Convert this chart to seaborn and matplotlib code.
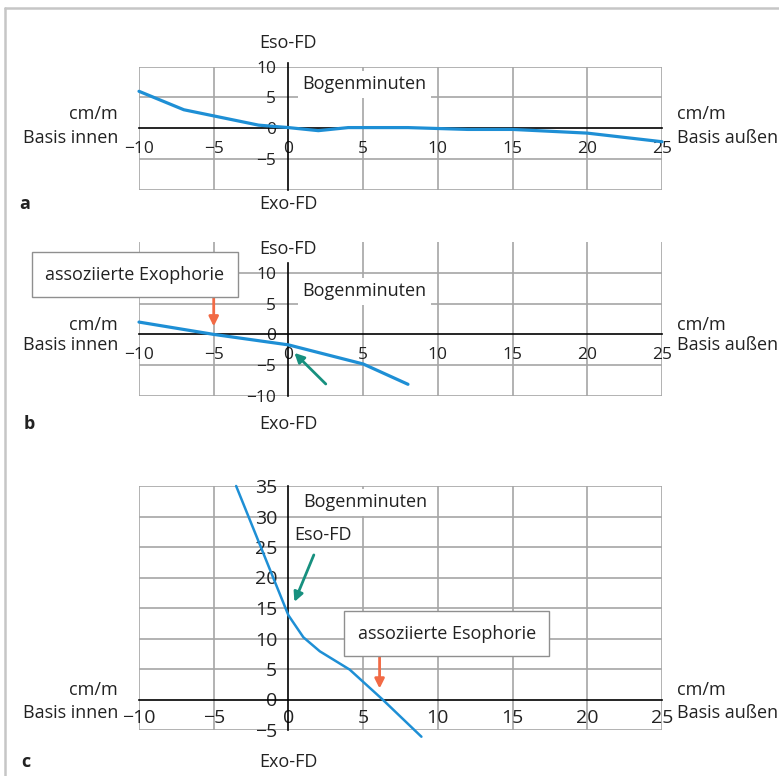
import matplotlib
matplotlib.use("Agg")
import matplotlib.pyplot as plt
from matplotlib.lines import Line2D
import seaborn as sns
import pandas as pd

# values (x: cm/m, y: Bogenminuten)
a_x = [-10, -7, -2, 0, 2, 4, 8, 12, 15, 20, 25]
a_y = [6, 3, 0.5, 0.1, -0.4, 0.1, 0.1, -0.2, -0.2, -0.8, -2.2]

b_x = [-10, -5, 0, 5, 8]
b_y = [2, 0, -1.7, -4.8, -8.1]

c_x = [-3.5, 0, 1.0, 2.1, 4.1, 6.3, 8.9]
c_y = [35, 13.8, 10.2, 7.9, 4.9, 0, -6.1]

x_ticks = [-10, -5, 0, 5, 10, 15, 20, 25]
a_yticks = [10, 5, 0, -5]
b_yticks = [10, 5, 0, -5, -10]
c_yticks = [35, 30, 25, 20, 15, 10, 5, 0, -5]

BLUE = "#1e8fd5"
ORANGE = "#f26a45"
TEAL = "#17907f"
GRID = "#a6a6a6"
TXT = "#222222"

sns.set_theme(style="white")
plt.rcParams["font.family"] = ["Open Sans", "DejaVu Sans"]
plt.rcParams["text.color"] = TXT

fig = plt.figure(figsize=(7.79, 7.76), dpi=100)

W, H = 779, 776
def axes_rect(left, right, top, bottom):
    return [left / W, 1 - bottom / H, (right - left) / W, (bottom - top) / H]

ax_a = fig.add_axes(axes_rect(139, 662, 66.7, 189.7))
ax_b = fig.add_axes(axes_rect(139, 662, 242, 396))
ax_c = fig.add_axes(axes_rect(139, 662, 486, 730))


def setup(ax, ylim, yticks, hgrid, spine_top, tick_fs, xpad, ypad):
    ax.set_xlim(-10, 25)
    ax.set_ylim(*ylim)
    ax.set_facecolor("none")
    for t in x_ticks:
        if t != 0:
            ax.vlines(t, ylim[0], ylim[1], color=GRID, lw=1.2, zorder=0)
    for t in hgrid:
        if t != 0:
            ax.hlines(t, -10, 25, color=GRID, lw=1.2, zorder=0)
    for s in ["top", "right"]:
        ax.spines[s].set_visible(False)
    ax.spines["bottom"].set_position(("data", 0))
    ax.spines["left"].set_position(("data", 0))
    ax.spines["left"].set_bounds(ylim[0], spine_top)
    for s in ["bottom", "left"]:
        ax.spines[s].set_color("black")
        ax.spines[s].set_linewidth(1.2)
        ax.spines[s].set_zorder(1)
    ax.set_xticks(x_ticks)
    ax.set_yticks(yticks)
    ax.set_xticklabels([f"{t}".replace("-", "\u2212") for t in x_ticks])
    ax.set_yticklabels([f"{t}".replace("-", "\u2212") for t in yticks])
    ax.tick_params(axis="x", length=0, pad=xpad, labelsize=tick_fs, colors=TXT)
    ax.tick_params(axis="y", length=0, pad=ypad, labelsize=tick_fs, colors=TXT)
    ax.set_xlabel("")
    ax.set_ylabel("")


setup(ax_a, (-10, 10), a_yticks, [10, 5, 0, -5, -10], 10.6, 12.5, 9, 9)
setup(ax_b, (-10, 15), b_yticks, b_yticks, 11.6, 12.5, 9, 9)
setup(ax_c, (-5, 35), c_yticks, c_yticks, 35, 14, 7, 8)

sns.lineplot(x=a_x, y=a_y, ax=ax_a, color=BLUE, lw=2.3, estimator=None, sort=False, zorder=3)
sns.lineplot(x=b_x, y=b_y, ax=ax_b, color=BLUE, lw=2.3, estimator=None, sort=False, zorder=3)
sns.lineplot(x=c_x, y=c_y, ax=ax_c, color=BLUE, lw=1.8, estimator=None, sort=False, zorder=3)
for ax in (ax_a, ax_b, ax_c):
    for ln in ax.get_lines():
        ln.set_clip_on(False)

FS = 13
white = dict(boxstyle="square,pad=0.25", fc="white", ec="none")
boxed = dict(boxstyle="square,pad=0.75", fc="white", ec="#8f8f8f", lw=1)


def side_labels(ax, cm_y, basis_y):
    ax.text(-11.4, cm_y, "cm/m", ha="right", va="baseline", fontsize=FS, clip_on=False)
    ax.text(-11.4, basis_y, "Basis innen", ha="right", va="baseline", fontsize=FS, clip_on=False)
    ax.text(26.0, cm_y, "cm/m", ha="left", va="baseline", fontsize=FS, clip_on=False)
    ax.text(26.0, basis_y, "Basis außen", ha="left", va="baseline", fontsize=FS, clip_on=False)


# panel a
ax_a.text(0, 13.1, "Eso-FD", ha="center", va="baseline", fontsize=FS, clip_on=False)
ax_a.text(0, -13.1, "Exo-FD", ha="center", va="baseline", fontsize=FS, clip_on=False)
ax_a.text(-18.0, -13.1, "a", ha="left", va="baseline", fontsize=FS, fontweight="bold", clip_on=False)
ax_a.text(0.95, 6.35, "Bogenminuten", ha="left", va="baseline", fontsize=FS, bbox=white, zorder=2)
side_labels(ax_a, 1.5, -2.4)

# panel b
ax_b.text(0, 13.1, "Eso-FD", ha="center", va="baseline", fontsize=FS, clip_on=False)
ax_b.text(0, -15.4, "Exo-FD", ha="center", va="baseline", fontsize=FS, clip_on=False)
ax_b.text(-17.7, -15.4, "b", ha="left", va="baseline", fontsize=FS, fontweight="bold", clip_on=False)
ax_b.text(0.95, 6.2, "Bogenminuten", ha="left", va="baseline", fontsize=FS, bbox=white, zorder=2)
side_labels(ax_b, 0.75, -2.5)
ax_b.text(-10.27, 9.7, "assoziierte Exophorie", ha="center", va="center", fontsize=FS,
          bbox=boxed, zorder=5, clip_on=False)
ax_b.annotate("", xy=(-5, 1.3), xytext=(-5, 7.1),
              arrowprops=dict(arrowstyle="-|>", color=ORANGE, lw=2, mutation_scale=14, shrinkA=0, shrinkB=0),
              zorder=4)
ax_b.annotate("", xy=(0.4, -3.0), xytext=(2.5, -8.05),
              arrowprops=dict(arrowstyle="-|>", color=TEAL, lw=2, mutation_scale=14, shrinkA=0, shrinkB=0),
              zorder=4)

# panel c
ax_c.text(0, -11.1, "Exo-FD", ha="center", va="baseline", fontsize=FS, clip_on=False)
ax_c.text(-17.9, -11.1, "c", ha="left", va="baseline", fontsize=FS, fontweight="bold", clip_on=False)
ax_c.text(1.0, 31.5, "Bogenminuten", ha="left", va="baseline", fontsize=FS, bbox=white, zorder=2)
ax_c.text(0.4, 26.1, "Eso-FD", ha="left", va="baseline", fontsize=FS)
side_labels(ax_c, 0.8, -3.1)
ax_c.text(10.6, 10.8, "assoziierte Esophorie", ha="center", va="center", fontsize=FS,
          bbox=boxed, zorder=5)
ax_c.annotate("", xy=(6.1, 1.8), xytext=(6.1, 7.6),
              arrowprops=dict(arrowstyle="-|>", color=ORANGE, lw=2, mutation_scale=14, shrinkA=0, shrinkB=0),
              zorder=4)
ax_c.annotate("", xy=(0.4, 16.0), xytext=(1.7, 23.7),
              arrowprops=dict(arrowstyle="-|>", color=TEAL, lw=2, mutation_scale=14, shrinkA=0, shrinkB=0),
              zorder=4)

# light frame round the figure (top and left edges)
fig.add_artist(Line2D([5 / W, 1], [1 - 7.5 / H] * 2, color="#c6c6c6", lw=1.8))
fig.add_artist(Line2D([5 / W] * 2, [0, 1 - 7.5 / H], color="#c6c6c6", lw=1.8))

fig.savefig("out.png", dpi=100)
